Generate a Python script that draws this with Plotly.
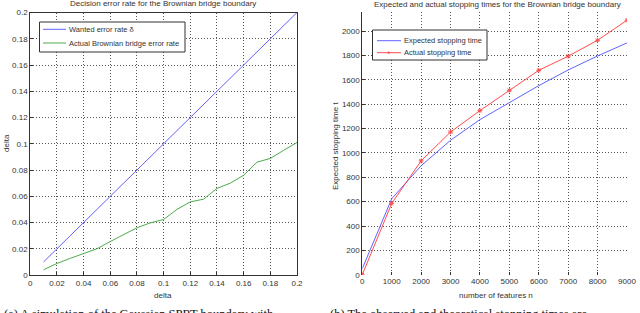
import plotly.graph_objects as go

# Left panel data
delta = [0.01, 0.02, 0.03, 0.04, 0.05, 0.06, 0.07, 0.08, 0.09, 0.10,
         0.11, 0.12, 0.13, 0.14, 0.15, 0.16, 0.17, 0.18, 0.19, 0.20]
wanted_rate = [0.01, 0.02, 0.03, 0.04, 0.05, 0.06, 0.07, 0.08, 0.09, 0.10,
               0.11, 0.12, 0.13, 0.14, 0.15, 0.16, 0.17, 0.18, 0.19, 0.20]
actual_rate = [0.004, 0.0088, 0.0127, 0.0165, 0.020, 0.0255, 0.031, 0.036, 0.0397, 0.0423,
               0.050, 0.0557, 0.0578, 0.066, 0.070, 0.076, 0.086, 0.0888, 0.095, 0.101]

# Right panel data
features = [0, 1000, 2000, 3000, 4000, 5000, 6000, 7000, 8000, 9000]
expected_time = [50, 624, 895, 1104, 1274, 1411, 1553, 1682, 1797, 1904]
actual_time = [0, 586, 935, 1172, 1348, 1515, 1679, 1795, 1926, 2090]

left_ticks = [0, 0.02, 0.04, 0.06, 0.08, 0.1, 0.12, 0.14, 0.16, 0.18, 0.2]
left_ticktext = ["0", "0.02", "0.04", "0.06", "0.08", "0.1", "0.12", "0.14", "0.16", "0.18", "0.2"]
right_xticks = [0, 1000, 2000, 3000, 4000, 5000, 6000, 7000, 8000, 9000]
right_yticks = [0, 200, 400, 600, 800, 1000, 1200, 1400, 1600, 1800, 2000]

left_names = ["Wanted error rate δ", "Actual Brownian bridge error rate"]
right_names = ["Expected stopping time", "Actual stopping time"]

FONT = "Liberation Sans, Arial, sans-serif"
TXT = "#333333"
BLUE = "#6262ff"
GREEN = "#4caa4c"
RED = "#ff4c4c"
W, H = 640, 313


def px(x):
    return x / W


def py(y):
    return 1 - y / H


fig = go.Figure()

fig.add_trace(go.Scatter(x=delta, y=wanted_rate, mode="lines", name=left_names[0],
                         line=dict(color=BLUE, width=1), xaxis="x", yaxis="y", hoverinfo="skip"))
fig.add_trace(go.Scatter(x=delta, y=actual_rate, mode="lines", name=left_names[1],
                         line=dict(color=GREEN, width=1), xaxis="x", yaxis="y", hoverinfo="skip"))

fig.add_trace(go.Scatter(x=features, y=expected_time, mode="lines", name=right_names[0],
                         line=dict(color=BLUE, width=1), xaxis="x2", yaxis="y2", hoverinfo="skip"))
fig.add_trace(go.Scatter(x=features, y=actual_time, mode="lines+markers", name=right_names[1],
                         line=dict(color=RED, width=1),
                         marker=dict(symbol="asterisk-open", size=4, color=RED,
                                     line=dict(width=1, color=RED)),
                         xaxis="x2", yaxis="y2", hoverinfo="skip"))

axis_common = dict(showgrid=True, gridcolor="#555555", griddash="1px,2px", gridwidth=1,
                   zeroline=False, ticks="inside", ticklen=3, tickcolor="#333333",
                   automargin=False,
                   tickfont=dict(family=FONT, size=8, color=TXT))

fig.update_layout(
    width=W, height=H,
    margin=dict(l=0, r=0, t=0, b=0),
    paper_bgcolor="white", plot_bgcolor="white",
    showlegend=False,
    hovermode=False,
    xaxis=dict(domain=[px(30.3), px(297)], range=[0, 0.2], tickvals=left_ticks, ticktext=left_ticktext,
               showline=True, mirror=True, linecolor="#333333", linewidth=1, anchor="y", **axis_common),
    yaxis=dict(domain=[py(275), py(12.5)], range=[0, 0.2], tickvals=left_ticks, ticktext=left_ticktext,
               showline=True, mirror=True, linecolor="#333333", linewidth=1, anchor="x", **axis_common),
    xaxis2=dict(domain=[px(362.3), px(627)], range=[0, 9000], tickvals=right_xticks,
                ticktext=[str(v) for v in right_xticks], showline=False, anchor="y2", **axis_common),
    yaxis2=dict(domain=[py(274.7), py(12)], range=[0, 2158], tickvals=right_yticks,
                ticktext=[str(v) for v in right_yticks], showline=True, linecolor="#333333", linewidth=1,
                anchor="x2", **axis_common),
)


def add_legend(box, items):
    x0, y0, x1, y1 = box
    fig.add_shape(type="rect", xref="paper", yref="paper", x0=px(x0), x1=px(x1), y0=py(y1), y1=py(y0),
                  line=dict(color="#333333", width=1), fillcolor="white", layer="above")
    for name, color, ly, lx0, lx1, tx, marker in items:
        fig.add_shape(type="line", xref="paper", yref="paper", x0=px(lx0), x1=px(lx1), y0=py(ly), y1=py(ly),
                      line=dict(color=color, width=1), layer="above")
        if marker:
            fig.add_annotation(text="*", x=px((lx0 + lx1) / 2), y=py(ly + 1.5), xref="paper", yref="paper",
                               showarrow=False, xanchor="center", yanchor="middle",
                               font=dict(family=FONT, size=9, color=color))
        fig.add_annotation(text=name, x=px(tx), y=py(ly), xref="paper", yref="paper", showarrow=False,
                           xanchor="left", yanchor="middle", font=dict(family=FONT, size=7.5, color=TXT))


add_legend((39.5, 22, 185, 52), [
    (left_names[0], BLUE, 29.3, 43, 66, 67, False),
    (left_names[1], GREEN, 43, 43, 66, 67, False),
])
add_legend((372.5, 30, 487, 60), [
    (right_names[0], BLUE, 40.7, 377, 401, 402, False),
    (right_names[1], RED, 52.7, 377, 401, 402, True),
])

annots = [
    dict(text="Decision error rate for the Brownian bridge boundary", x=px(163), y=py(4)),
    dict(text="Expected and actual stopping times for the Brownian bridge boundary", x=px(497), y=py(4.5)),
    dict(text="delta", x=px(163), y=py(295)),
    dict(text="number of features n", x=px(496), y=py(295)),
]
for a in annots:
    fig.add_annotation(text=a["text"], x=a["x"], y=a["y"], xref="paper", yref="paper",
                       showarrow=False, xanchor="center", yanchor="middle",
                       font=dict(family=FONT, size=8, color=TXT))

fig.add_annotation(text="delta", x=px(6), y=py(143), xref="paper", yref="paper", showarrow=False,
                   textangle=-90, xanchor="center", yanchor="middle",
                   font=dict(family=FONT, size=8, color=TXT))
fig.add_annotation(text="Expected stopping time t", x=px(335), y=py(146), xref="paper", yref="paper",
                   showarrow=False, textangle=-90, xanchor="center", yanchor="middle",
                   font=dict(family=FONT, size=8, color=TXT))

# Partially visible captions at the bottom edge (cut by the frame, as in the reference)
fig.add_annotation(text="(a) A simulation of the Gaussian SPRT boundary with", x=px(2), y=py(305),
                   xref="paper", yref="paper", showarrow=False, xanchor="left", yanchor="top",
                   font=dict(family="Liberation Serif, serif", size=12.5, color="#111111"))
fig.add_annotation(text="(b) The observed and theoretical stopping times are", x=px(328), y=py(305),
                   xref="paper", yref="paper", showarrow=False, xanchor="left", yanchor="top",
                   font=dict(family="Liberation Serif, serif", size=12.5, color="#111111"))

fig.write_html("out.html", config={"displayModeBar": False, "staticPlot": True},
               post_script="document.body.style.margin='0';document.body.style.overflow='hidden';")
